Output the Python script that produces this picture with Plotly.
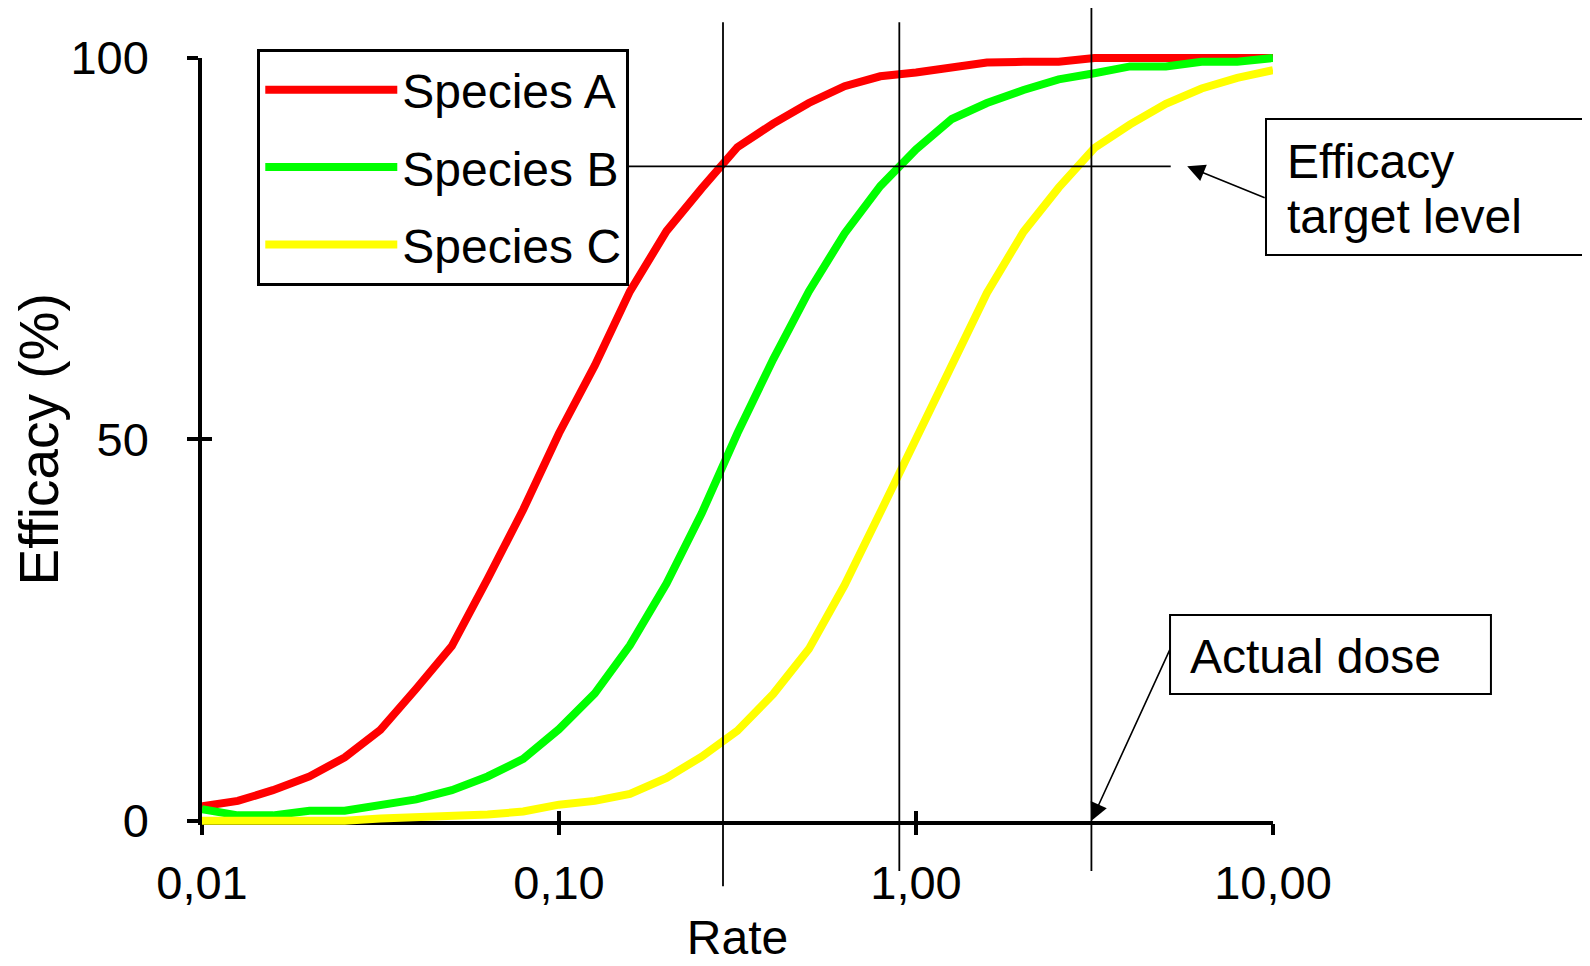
import math
import plotly.graph_objects as go

# ---------------- data ----------------
rate = [0.0100, 0.0126, 0.0158, 0.0200, 0.0251, 0.0316, 0.0398, 0.0501, 0.0631, 0.0794,
        0.100, 0.126, 0.158, 0.200, 0.251, 0.316, 0.398, 0.501, 0.631, 0.794,
        1.00, 1.26, 1.58, 2.00, 2.51, 3.16, 3.98, 5.01, 6.31, 7.94, 10.0]

species_a = [1.9, 2.6, 4.0, 5.8, 8.3, 11.9, 17.3, 22.9, 31.7, 40.8,
             50.8, 59.7, 69.4, 77.3, 82.9, 88.3, 91.4, 94.1, 96.3, 97.6,
             98.1, 98.7, 99.4, 99.5, 99.5, 100, 100, 100, 100, 100, 100]

species_b = [1.5, 0.7, 0.7, 1.3, 1.3, 2.0, 2.8, 4.0, 5.8, 8.1,
             12.0, 16.7, 23.0, 31.1, 40.3, 50.8, 60.5, 69.4, 77.0, 83.2,
             88.0, 92.0, 94.1, 95.8, 97.2, 98.0, 98.9, 98.9, 99.5, 99.5, 100]

species_c = [0, 0, 0, 0, 0, 0.3, 0.5, 0.5, 0.8, 1.2,
             2.1, 2.6, 3.5, 5.6, 8.4, 11.8, 16.6, 22.5, 30.9, 40.4,
             50.0, 59.5, 69.2, 77.2, 83.0, 88.2, 91.3, 94.0, 96.0, 97.4, 98.4]

series_names = ["Species A", "Species B", "Species C"]
series_colors = ["#FF0000", "#00FF00", "#FFFF00"]

target_level = 85.8                    # efficacy target (%)
target_span = [0.155, 5.17]            # extent of the target line on the rate axis
actual_dose = [0.288, 0.898, 3.10]     # vertical dose lines
dose_line_bottom = [-8.6, -6.6, -6.6]
dose_line_top = [104.7, 104.7, 106.7]

x_tickvals = [0.01, 0.1, 1, 10]
x_ticktext = ["0,01", "0,10", "1,00", "10,00"]
y_tickvals = [0, 50, 100]
y_ticktext = ["0", "50", "100"]

# ---------------- layout geometry (screen pixels) ----------------
W, H = 1590, 966
OFF = 8                      # page body margin: the figure is drawn 8px in from the top-left
PLOT_L, PLOT_R = 201.7, 1273.0
Y0_PX, Y100_PX = 820.7, 58.0
FONT = "Liberation Sans, Arial, sans-serif"

FIG_L = PLOT_L - OFF
FIG_R = PLOT_R - OFF


def paper_x(px):
    return (px - OFF - FIG_L) / (FIG_R - FIG_L)


def paper_y(py):
    return 1 - (py - OFF) / H


scale = (Y0_PX - Y100_PX) / 100.0
y0_fig = Y0_PX - OFF
data_yrange = [-(H - y0_fig) / scale, y0_fig / scale]
decor_ydomain = [paper_y(Y0_PX), paper_y(Y100_PX)]

fig = go.Figure()

# invisible anchors so the decorative axes are drawn
fig.add_trace(go.Scatter(x=[x_tickvals[0]], y=[y_tickvals[0]], xaxis="x", yaxis="y",
                         mode="markers", marker=dict(opacity=0), showlegend=False,
                         hoverinfo="skip"))
fig.add_trace(go.Scatter(x=[x_tickvals[0]], y=[y_tickvals[0]], xaxis="x2", yaxis="y2",
                         mode="markers", marker=dict(opacity=0), showlegend=False,
                         hoverinfo="skip"))

for name, vals, col in zip(series_names, [species_a, species_b, species_c], series_colors):
    fig.add_trace(go.Scatter(x=rate, y=vals, name=name, mode="lines",
                             line=dict(color=col, width=8),
                             xaxis="x3", yaxis="y3", legendgroup=name))

# reference lines
shapes = []
for d, y0, y1 in zip(actual_dose, dose_line_bottom, dose_line_top):
    shapes.append(dict(type="line", xref="x3", yref="y3", x0=d, x1=d, y0=y0, y1=y1,
                       line=dict(color="black", width=1.8)))
shapes.append(dict(type="line", xref="x3", yref="y3", x0=target_span[0], x1=target_span[1],
                   y0=target_level, y1=target_level, line=dict(color="black", width=1.8)))
# callout boxes
shapes.append(dict(type="rect", xref="paper", yref="paper",
                   x0=paper_x(1266), x1=paper_x(1587), y0=paper_y(255), y1=paper_y(119),
                   line=dict(color="black", width=2), fillcolor="white", layer="above"))
shapes.append(dict(type="rect", xref="paper", yref="paper",
                   x0=paper_x(1170), x1=paper_x(1491), y0=paper_y(694), y1=paper_y(615),
                   line=dict(color="black", width=2), fillcolor="white", layer="above"))

txt_font = dict(family=FONT, size=48, color="black")
annotations = [
    dict(xref="x3", yref="y3", x=math.log10(5.75), y=target_level,
         axref="x3", ayref="y3", ax=math.log10(9.57), ay=81.6,
         text="", showarrow=True, arrowhead=2, arrowsize=2.2, arrowwidth=1.6,
         arrowcolor="black"),
    dict(xref="x3", yref="y3", x=math.log10(actual_dose[2]), y=0,
         axref="x3", ayref="y3", ax=math.log10(5.16), ay=22.6,
         text="", showarrow=True, arrowhead=2, arrowsize=2.2, arrowwidth=1.6,
         arrowcolor="black"),
    dict(xref="paper", yref="paper", x=paper_x(1285), y=paper_y(161),
         xanchor="left", yanchor="middle", align="left", showarrow=False,
         text="Efficacy", font=txt_font),
    dict(xref="paper", yref="paper", x=paper_x(1285), y=paper_y(216),
         xanchor="left", yanchor="middle", align="left", showarrow=False,
         text="target level", font=txt_font),
    dict(xref="paper", yref="paper", x=paper_x(1188), y=paper_y(656),
         xanchor="left", yanchor="middle", align="left", showarrow=False,
         text="Actual dose", font=txt_font),
]

axis_common = dict(showgrid=False, zeroline=False, linecolor="black", tickcolor="black")

fig.update_layout(
    width=W, height=H,
    margin=dict(l=FIG_L, r=W - FIG_R, t=0, b=0, pad=0, autoexpand=False),
    paper_bgcolor="white", plot_bgcolor="rgba(0,0,0,0)",
    font=dict(family=FONT, color="black"),
    showlegend=True,
    legend=dict(x=paper_x(257), y=paper_y(49), xanchor="left", yanchor="top",
                bordercolor="black", borderwidth=3, bgcolor="white",
                font=dict(family=FONT, size=48, color="black"),
                tracegroupgap=12, itemwidth=132),
    xaxis=dict(type="log", range=[-2, 1], domain=[0, 1], anchor="y",
               showline=True, linewidth=3.5, ticks="outside", ticklen=11, tickwidth=3.5,
               tickvals=x_tickvals, ticktext=x_ticktext, ticklabelstandoff=7,
               tickfont=dict(family=FONT, size=47, color="black"),
               title=dict(text="Rate", font=dict(family=FONT, size=48, color="black"),
                          standoff=14),
               automargin=False,
               **axis_common),
    yaxis=dict(range=[0, 100], domain=decor_ydomain, anchor="x",
               showline=True, linewidth=3.5, ticks="outside", ticklen=11, tickwidth=3.5,
               tickvals=y_tickvals, ticktext=y_ticktext, ticklabelstandoff=29,
               tickfont=dict(family=FONT, size=47, color="black"),
               title=dict(text="Efficacy (%)", font=dict(family=FONT, size=55, color="black"),
                          standoff=9),
               automargin=False,
               **axis_common),
    xaxis2=dict(type="log", range=[-2, 1], overlaying="x", anchor="y2",
                showline=False, ticks="inside", ticklen=10, tickwidth=3.5,
                tickvals=x_tickvals, showticklabels=False, **axis_common),
    yaxis2=dict(range=[0, 100], overlaying="y", anchor="x2",
                showline=False, ticks="inside", ticklen=10, tickwidth=3.5,
                tickvals=y_tickvals, showticklabels=False, **axis_common),
    xaxis3=dict(type="log", range=[-2, 1], domain=[0, 1], anchor="y3", visible=False),
    yaxis3=dict(range=data_yrange, domain=[0, 1], anchor="x3", visible=False),
    shapes=shapes,
    annotations=annotations,
)

fig.write_html("out.html")
